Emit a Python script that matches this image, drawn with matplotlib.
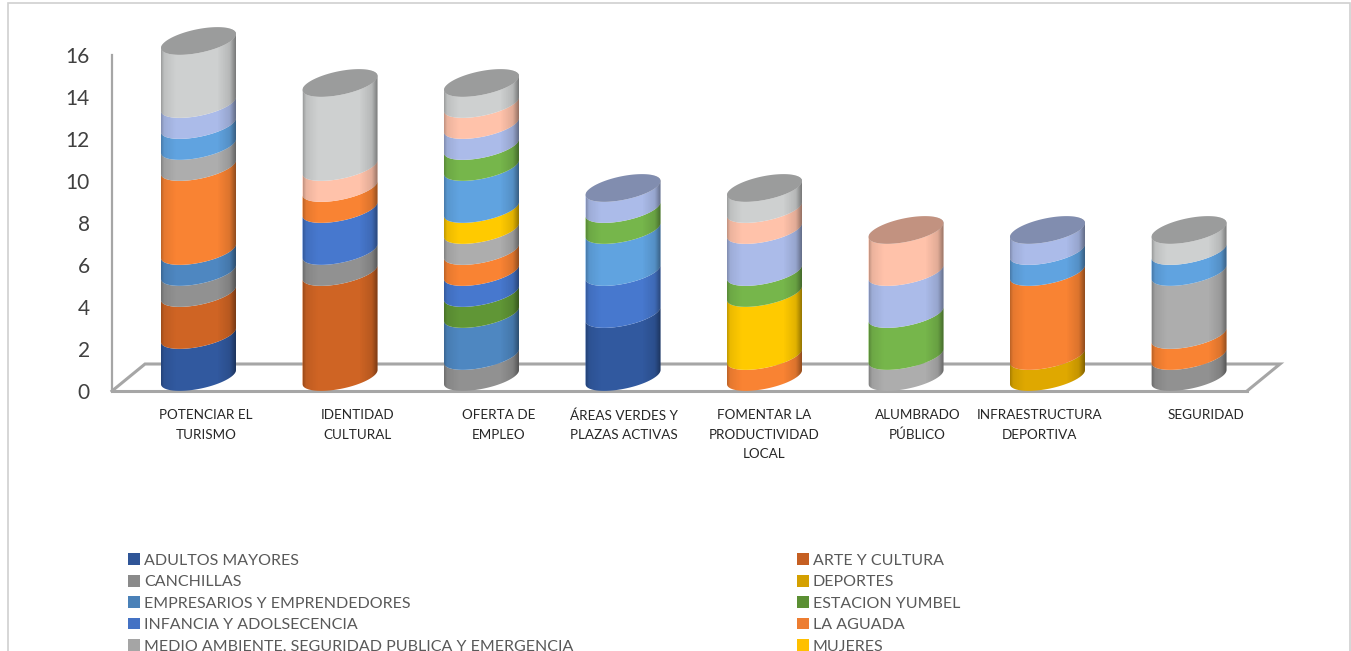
import matplotlib
matplotlib.use('Agg')
import matplotlib.pyplot as plt
from matplotlib.patches import Polygon, Rectangle
import numpy as np

plt.rcParams['font.family'] = ['Lato', 'DejaVu Sans']

categories = ['POTENCIAR EL\nTURISMO', 'IDENTIDAD\nCULTURAL', 'OFERTA DE\nEMPLEO',
              'ÁREAS VERDES Y\nPLAZAS ACTIVAS', 'FOMENTAR LA\nPRODUCTIVIDAD\nLOCAL',
              'ALUMBRADO\nPÚBLICO', 'INFRAESTRUCTURA\nDEPORTIVA', 'SEGURIDAD']

adultos = [2, 0, 0, 3, 0, 0, 0, 0]
arte = [2, 5, 0, 0, 0, 0, 0, 0]
canchillas = [1, 1, 1, 0, 0, 0, 0, 1]
deportes = [0, 0, 0, 0, 0, 0, 1, 0]
empresarios = [1, 0, 2, 0, 0, 0, 0, 0]
estacion = [0, 0, 1, 0, 0, 0, 0, 0]
infancia = [0, 2, 1, 2, 0, 0, 0, 0]
aguada = [4, 1, 1, 0, 1, 0, 4, 1]
medio = [1, 0, 1, 0, 0, 1, 0, 3]
mujeres = [0, 0, 1, 0, 3, 0, 0, 0]
# the last five are cut off from the legend in the picture
hidden_a = [1, 0, 2, 2, 0, 0, 1, 1]
hidden_b = [0, 0, 1, 1, 1, 2, 0, 0]
hidden_c = [1, 0, 1, 1, 2, 2, 1, 0]
hidden_d = [0, 1, 1, 0, 1, 2, 0, 0]
hidden_e = [3, 4, 1, 0, 1, 0, 0, 1]

series = [adultos, arte, canchillas, deportes, empresarios, estacion, infancia,
          aguada, medio, mujeres, hidden_a, hidden_b, hidden_c, hidden_d, hidden_e]
colors = ['#2F5597', '#C55F22', '#8A8A8A', '#D4A000', '#4A81B8', '#5B8F33', '#4472C4',
          '#ED7D31', '#A5A5A5', '#FFC000', '#5B9BD5', '#70AD47', '#A3B2DE', '#F5B9A2', '#C4C6C6']
legend_names = ['ADULTOS MAYORES', 'CANCHILLAS', 'EMPRESARIOS Y EMPRENDEDORES',
                'INFANCIA Y ADOLSECENCIA', 'MEDIO AMBIENTE, SEGURIDAD PUBLICA Y EMERGENCIA',
                'ARTE Y CULTURA', 'DEPORTES', 'ESTACION YUMBEL', 'LA AGUADA', 'MUJERES']
legend_order = [0, 2, 4, 6, 8, 1, 3, 5, 7, 9]

W, H = 1351, 651
fig = plt.figure(figsize=(W / 100, H / 100), dpi=100)
fig.add_artist(Rectangle((8 / W, -0.1), 1342 / W, 1.1 - 2.7 / H, transform=fig.transFigure,
                         fc='none', ec='#D0D0D0', lw=1.2))

# axes box = front edge of the 3d floor
ax = fig.add_axes([112 / W, (H - 391) / H, 1135 / W, 336 / H])
step = 141.5
xleft = -86.5 / step
ax.set_xlim(xleft, xleft + 1135 / step)
ax.set_ylim(0, 16)
ax.patch.set_visible(False)
for s in ['top', 'right']:
    ax.spines[s].set_visible(False)
ax.spines['left'].set_color('#A6A6A6')
ax.spines['left'].set_linewidth(1.6)
ax.spines['bottom'].set_color('#A6A6A6')
ax.spines['bottom'].set_linewidth(2.2)

ax.set_yticks(range(0, 17, 2))
ax.tick_params(axis='y', length=0, labelsize=15, labelcolor='#404040', pad=16)
x = np.arange(len(categories))
label_shift = np.array([7.5, 18, 17.5, 0.5, -0.5, 11.5, -8, 16.5]) / step
ax.set_xticks(x + label_shift)
ax.set_xticklabels(categories, fontsize=9.7, color='#262626', linespacing=1.75)
ax.tick_params(axis='x', length=0, pad=13)

# back edge of floor
dx, dy = 33 / step, 27 / 21
xr = xleft + 1135 / step
ax.plot([xleft, xleft + dx, xr + dx, xr], [0, dy, dy, 0], color='#A6A6A6', lw=2.2,
        clip_on=False, zorder=1, solid_joinstyle='miter')

half = 37.5 / step
base = 0.667
shear = 0.333
bulge = 0.571
t = np.linspace(np.pi, 2 * np.pi, 60)
shade_u = np.linspace(0, 1, 200)
shade_a = np.interp(shade_u, [0, .04, .2, .75, .92, 1], [.25, .08, 0, 0, .12, .42])
shade = np.zeros((1, 200, 4))
shade[0, :, 3] = shade_a


def front(cx, level):
    px = cx + half * np.cos(t)
    py = level + base + shear * np.cos(t) + bulge * np.sin(t)
    return px, py


for i in x:
    level = 0
    top_color = None
    for vals, c in zip(series, colors):
        if vals[i] == 0:
            continue
        x0, y0 = front(i, level)
        x1, y1 = front(i, level + vals[i])
        pts = np.r_[np.c_[x0, y0], np.c_[x1, y1][::-1]]
        lit = np.minimum(np.array(matplotlib.colors.to_rgb(c)) * 1.05, 1)
        ax.add_patch(Polygon(pts, fc=lit, ec='none', clip_on=False, zorder=3))
        level += vals[i]
        top_color = c
    # side shading clipped to the whole column
    xb, yb = front(i, 0)
    xt, yt = front(i, level)
    back_y = level + base + shear * np.cos(t[::-1]) - bulge * np.sin(t[::-1])
    outline = np.r_[np.c_[xb, yb], np.c_[xt[::-1], back_y]]
    clip = Polygon(outline, transform=ax.transData, fc='none', ec='none', clip_on=False)
    ax.add_patch(clip)
    im = ax.imshow(shade, extent=[i - half, i + half, 0, level + 2], aspect='auto', zorder=4)
    im.set_clip_path(clip)
    im.set_clip_box(fig.bbox)
    # top cap
    rgb = np.array(matplotlib.colors.to_rgb(top_color)) * 0.79
    cap = np.r_[np.c_[xt, yt], np.c_[xt[::-1], back_y]]
    ax.add_patch(Polygon(cap, fc=rgb, ec='none', clip_on=False, zorder=5))

ax.set_xlim(xleft, xr)
ax.set_ylim(0, 16)

handles = [Rectangle((0, 0), 1, 1, fc=colors[j]) for j in legend_order]
fig.legend(handles, legend_names, ncol=2, loc='upper left',
           bbox_to_anchor=(114 / W, 1 - 539 / H), frameon=False, fontsize=11.5,
           labelcolor='#595959', handlelength=0.75, handleheight=0.75, handletextpad=0.22,
           labelspacing=0.44, columnspacing=14.02)

fig.savefig('out.png', dpi=100)
